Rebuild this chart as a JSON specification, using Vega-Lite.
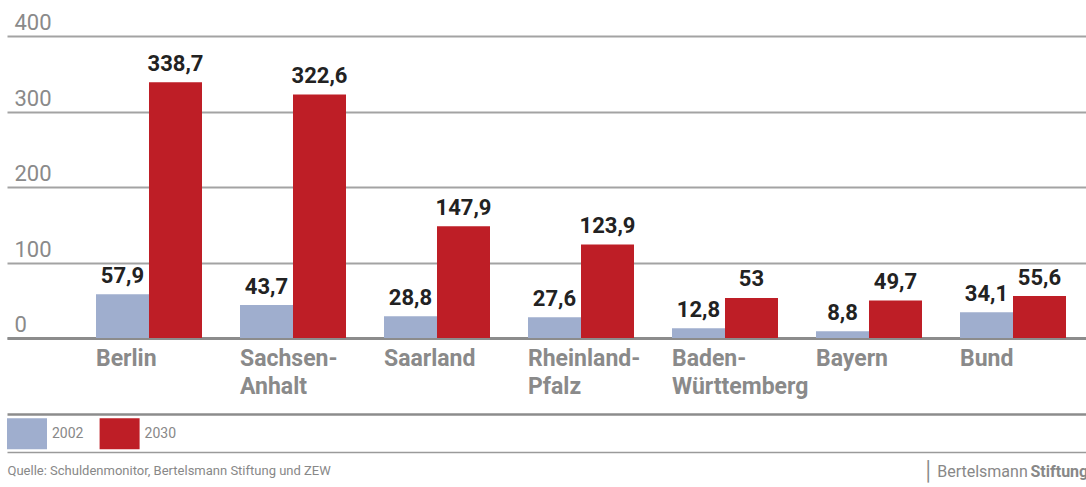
{
  "$schema": "https://vega.github.io/schema/vega-lite/v6.json",
  "autosize": {"type": "none"},
  "padding": {"left": 7, "top": 36, "right": 0, "bottom": 149},
  "width": 1079,
  "height": 302,
  "background": "white",
  "config": {
    "view": {"stroke": null},
    "locale": {"number": {"decimal": ",", "thousands": ".", "grouping": [3], "currency": ["", " €"]}},
    "font": "Roboto"
  },
  "data": {
    "values": [
      {"state": "Berlin", "year": "2002", "value": 57.9},
      {"state": "Berlin", "year": "2030", "value": 338.7},
      {"state": "Sachsen-Anhalt", "year": "2002", "value": 43.7},
      {"state": "Sachsen-Anhalt", "year": "2030", "value": 322.6},
      {"state": "Saarland", "year": "2002", "value": 28.8},
      {"state": "Saarland", "year": "2030", "value": 147.9},
      {"state": "Rheinland-Pfalz", "year": "2002", "value": 27.6},
      {"state": "Rheinland-Pfalz", "year": "2030", "value": 123.9},
      {"state": "Baden-Württemberg", "year": "2002", "value": 12.8},
      {"state": "Baden-Württemberg", "year": "2030", "value": 53},
      {"state": "Bayern", "year": "2002", "value": 8.8},
      {"state": "Bayern", "year": "2030", "value": 49.7},
      {"state": "Bund", "year": "2002", "value": 34.1},
      {"state": "Bund", "year": "2030", "value": 55.6}
    ]
  },
  "resolve": {"scale": {"x": "independent", "xOffset": "independent"}, "axis": {"x": "independent"}},
  "layer": [
    {
      "mark": {"type": "bar"},
      "encoding": {
        "x": {
          "field": "state", "type": "nominal", "sort": null,
          "scale": {"type": "band", "domain": ["Berlin", "Sachsen-Anhalt", "Saarland", "Rheinland-Pfalz", "Baden-Württemberg", "Bayern", "Bund"], "paddingInner": 0.263889, "paddingOuter": 0.378472, "align": 0.8165, "round": false},
          "axis": {
            "orient": "bottom", "domain": true, "domainColor": "#8c8c8c", "domainWidth": 3,
            "ticks": false, "labelAlign": "left", "labelBaseline": "top", "labelPadding": 9, "labelOffset": -53,
            "labelAngle": 0,
            "labelFont": "Roboto", "labelFontSize": 23, "labelFontWeight": "bold", "labelColor": "#8a8a8a",
            "labelLineHeight": 28, "labelOverlap": false, "labelLimit": 400, "labelBound": false,
            "labelExpr": "split(replace(datum.label, '-', '-|'), '|')",
            "title": "Stiftung", "titleX": 1023, "titleY": 138.7, "titleAlign": "left", "titleBaseline": "alphabetic", "titleAngle": 0,
            "titleFont": "Roboto", "titleFontSize": 16, "titleFontWeight": "bold", "titleColor": "#888888"
          }
        },
        "xOffset": {"field": "year", "type": "nominal", "scale": {"domain": ["2002", "2030"], "paddingInner": 0, "paddingOuter": 0}},
        "y": {
          "field": "value", "type": "quantitative",
          "scale": {"domain": [0, 400], "nice": false},
          "axis": {
            "values": [0, 50, 100, 150, 200, 250, 300, 350, 400],
            "domain": false, "ticks": false,
            "grid": true,
            "gridColor": {"condition": {"test": "datum.value % 100 !== 0", "value": "#8f8f8f"}, "value": "#a3a3a3"},
            "gridDash": {"condition": {"test": "datum.value % 100 !== 0", "value": [2.5, 2]}, "value": []},
            "gridWidth": {"condition": {"test": "datum.value % 100 !== 0", "value": 1}, "value": 1.8},
            "labelExpr": "datum.value % 100 === 0 ? datum.label : ''",
            "labelAlign": "left", "labelBaseline": "alphabetic", "labelPadding": -7, "labelOffset": -6.5,
            "labelFont": "Roboto", "labelFontSize": 22, "labelColor": "#8a8a8a",
            "title": "│", "titleAngle": 0, "titleX": 920.7, "titleY": 435, "titleAlign": "center", "titleBaseline": "middle",
            "titleFont": "DejaVu Sans", "titleFontSize": 19, "titleFontWeight": "normal", "titleColor": "#888888"
          }
        },
        "color": {
          "field": "year", "type": "nominal",
          "scale": {"domain": ["2002", "2030"], "range": ["#9FAECE", "#BE1E26"]},
          "legend": {
            "orient": "none", "legendX": 0, "legendY": 377.5, "direction": "horizontal", "title": null,
            "symbolType": "M-1,-0.775H1V0.775H-1Z", "symbolSize": 1600, "symbolStrokeWidth": 0, "symbolOpacity": 1,
            "labelFont": "Roboto", "labelFontSize": 14, "labelColor": "#888888", "labelOffset": 5,
            "columnPadding": 15.6, "padding": 0
          }
        }
      }
    },
    {
      "transform": [{"filter": "datum.year === '2030'"}],
      "mark": {"type": "text", "font": "Roboto", "fontSize": 22, "fontWeight": "bold", "color": "#222222", "baseline": "alphabetic", "align": "center", "dy": -11.5},
      "encoding": {
        "x": {
          "field": "state", "type": "nominal", "sort": null, "bandPosition": 0.75,
          "scale": {"type": "band", "domain": ["Berlin", "Sachsen-Anhalt", "Saarland", "Rheinland-Pfalz", "Baden-Württemberg", "Bayern", "Bund"], "paddingInner": 0.263889, "paddingOuter": 0.378472, "align": 0.8165, "round": false},
          "axis": {
            "orient": "bottom", "offset": 76, "domain": true, "domainColor": "#8c8c8c", "domainWidth": 2.7,
            "ticks": false, "labels": false, "grid": false,
            "title": "Bertelsmann", "titleX": 929.7, "titleY": 62.7, "titleAlign": "left", "titleBaseline": "alphabetic", "titleAngle": 0,
            "titleFont": "Roboto", "titleFontSize": 16, "titleFontWeight": "normal", "titleColor": "#888888"
          }
        },
        "y": {"field": "value", "type": "quantitative"},
        "text": {"field": "value", "type": "quantitative", "format": "~g"}
      }
    },
    {
      "transform": [{"filter": "datum.year === '2002'"}],
      "mark": {"type": "text", "font": "Roboto", "fontSize": 22, "fontWeight": "bold", "color": "#222222", "baseline": "alphabetic", "align": "center", "dy": -11.5},
      "encoding": {
        "x": {
          "field": "state", "type": "nominal", "sort": null, "bandPosition": 0.25,
          "scale": {"type": "band", "domain": ["Berlin", "Sachsen-Anhalt", "Saarland", "Rheinland-Pfalz", "Baden-Württemberg", "Bayern", "Bund"], "paddingInner": 0.263889, "paddingOuter": 0.378472, "align": 0.8165, "round": false},
          "axis": {
            "orient": "bottom", "offset": 114, "domain": true, "domainColor": "#9a9a9a", "domainWidth": 1.5,
            "ticks": false, "labels": false, "grid": false,
            "title": "Quelle: Schuldenmonitor, Bertelsmann Stiftung und ZEW", "titleX": 0, "titleY": 22.5, "titleAlign": "left", "titleBaseline": "alphabetic", "titleAngle": 0,
            "titleFont": "Roboto", "titleFontSize": 13, "titleFontWeight": "normal", "titleColor": "#888888"
          }
        },
        "y": {"field": "value", "type": "quantitative"},
        "text": {"field": "value", "type": "quantitative", "format": "~g"}
      }
    }
  ]
}
